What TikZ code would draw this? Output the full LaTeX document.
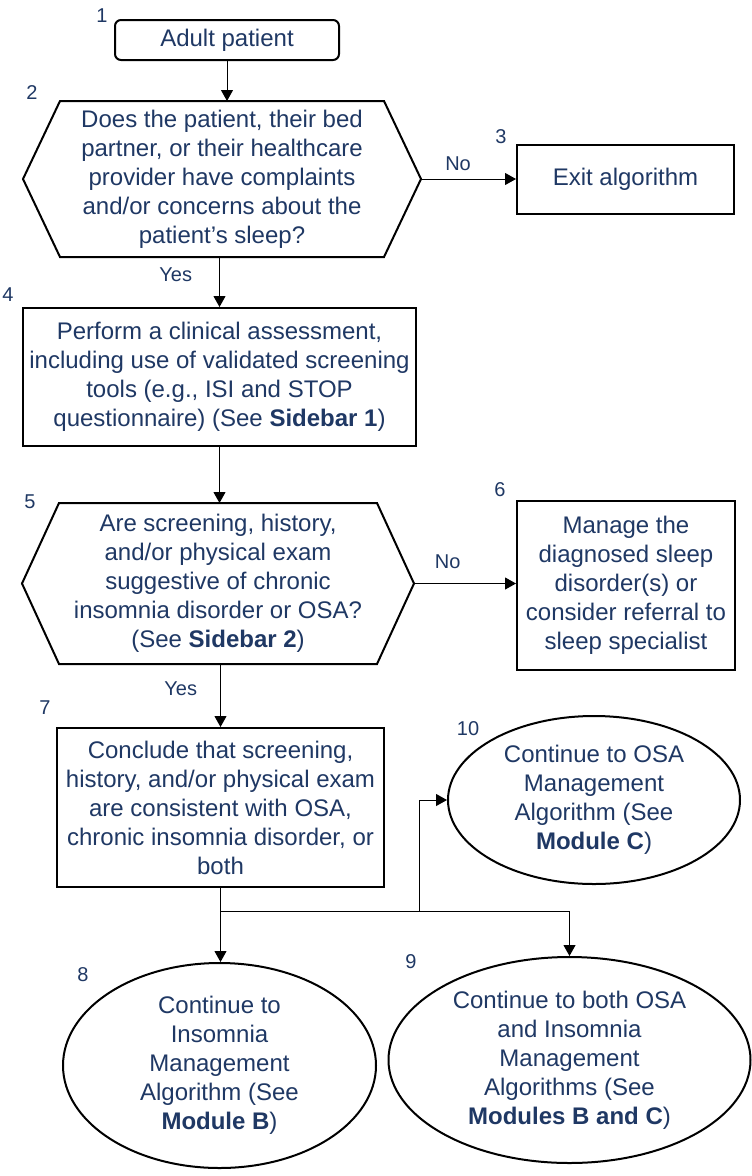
\documentclass[tikz,border=0pt]{standalone}
\usepackage{fontspec}
\setmainfont{Liberation Sans}
\usepackage{tikz}
\usetikzlibrary{positioning}
\usetikzlibrary{shapes.geometric,calc,arrows.meta}
\definecolor{txtblue}{RGB}{31,56,100}
\tikzset{
  box/.style={draw, line width=2pt, text=txtblue, align=center, inner sep=0pt,
    font=\fontsize{24}{29}\selectfont},
  oval/.style={box, ellipse},
  hexframe/.style={line width=2pt, line join=miter},
  arr/.style={line width=1pt, -{Triangle[length=11pt,width=12pt]}},
  lbl/.style={text=txtblue, inner sep=1pt, font=\fontsize{20}{24}\selectfont},
  num/.style={text=txtblue, inner sep=0pt, font=\fontsize{20}{24}\selectfont}
}

\begin{document}
\begin{tikzpicture}[x=1pt, y=-1pt]
  \path[use as bounding box, fill=white] (0,0) rectangle (752,1176);
  \node (B1) [box, rounded corners=6pt, minimum width=224pt, minimum height=40pt] at (227,40) {Adult patient};
  \node (B2) [box, draw=none, minimum width=322pt, minimum height=154pt, node distance=139pt, below of=B1, xshift=-5pt] {Does the patient, their bed\\ partner, or their healthcare\\ provider have complaints\\ and/or concerns about the\\ patient’s sleep?};
  \node (B3) [box, minimum width=217pt, minimum height=69pt, node distance=403.5pt, right of=B2] {Exit algorithm};
  \node (B4) [box, minimum width=393pt, minimum height=138pt, node distance=198pt, below of=B2, xshift=-2.5pt] {Perform a clinical assessment,\\ including use of validated screening\\ tools (e.g., ISI and STOP\\ questionnaire) (See \textbf{Sidebar 1})};
  \node (B5) [box, draw=none, minimum width=316pt, minimum height=159pt, node distance=206.5pt, below of=B4, xshift=-1.5pt] {Are screening, history,\\ and/or physical exam\\ suggestive of chronic\\ insomnia disorder or OSA?\\ (See \textbf{Sidebar 2})};
  \node (B6) [box, minimum width=218pt, minimum height=169pt, node distance=408pt, right of=B5, yshift=-2pt] {Manage the\\ diagnosed sleep\\ disorder(s) or\\ consider referral to\\ sleep specialist};
  \node (B7) [box, minimum width=327pt, minimum height=159pt, node distance=224pt, below of=B5, xshift=2.5pt] {Conclude that screening,\\ history, and/or physical exam\\ are consistent with OSA,\\ chronic insomnia disorder, or\\ both};
  \node (B8) [oval, minimum width=313pt, minimum height=205pt, node distance=258pt, below of=B7, xshift=-1pt] {Continue to\\ Insomnia\\ Management\\ Algorithm (See\\ \textbf{Module B})};
  \node (B9) [oval, minimum width=362pt, minimum height=206pt, node distance=350pt, right of=B8, yshift=5.5pt] {Continue to both OSA\\ and Insomnia\\ Management\\ Algorithms (See\\ \textbf{Modules B and C})};
  \node (B10) [oval, minimum width=292pt, minimum height=168pt, node distance=373.5pt, right of=B7, yshift=7.5pt] {Continue to OSA\\ Management\\ Algorithm (See\\ \textbf{Module C})};

  \foreach \h in {B2,B5}
    \draw[hexframe] (\h.north west) -- (\h.north east) -- ($(\h.east)+(37,0)$) -- (\h.south east)
      -- (\h.south west) -- ($(\h.west)+(-37,0)$) -- cycle;
  \coordinate (B2r) at ($(B2.east)+(37,0)$);
  \coordinate (B5r) at ($(B5.east)+(37,0)$);
  \coordinate (split) at ($(B7.south)+(0,23)$);
  \coordinate (branch) at ($(split)+(198.5,0)$);

  \node[num] (k1) at (102,16) {1};
  \node[num] (k2) at (32,93) {2};
  \node[num] (k3) at (501,137) {3};
  \node[num] (k4) at (8,295) {4};
  \node[num] (k5) at (30,502) {5};
  \node[num] (k6) at (500,490) {6};
  \node[num] (k7) at (45,708) {7};
  \node[num] (k8) at (83,975) {8};
  \node[num] (k9) at (411,962) {9};
  \node[num] (k10) at (468,729) {10};

  \draw[arr] (B1) -- (B1 |- B2.north);
  \draw[arr] (B2r) to node [lbl, above=7pt, pos=0.39] {No} (B3);
  \draw[arr] (B4 |- B2.south) to node [lbl, left=26pt, pos=0.36] {Yes} (B4);
  \draw[arr] (B4) -- (B4 |- B5.north);
  \draw[arr] (B5r) to node [lbl, above=13pt, pos=0.33] {No} (B5r -| B6.west);
  \draw[arr] (B7 |- B5.south) to node [lbl, left=22pt, pos=0.4] {Yes} (B7);
  \draw[arr] (B7) -- (split) -- (split |- B8.north);
  \draw[arr] (split) -| (B9);
  \draw[arr] (branch) |- (B10);
\end{tikzpicture}
\end{document}
